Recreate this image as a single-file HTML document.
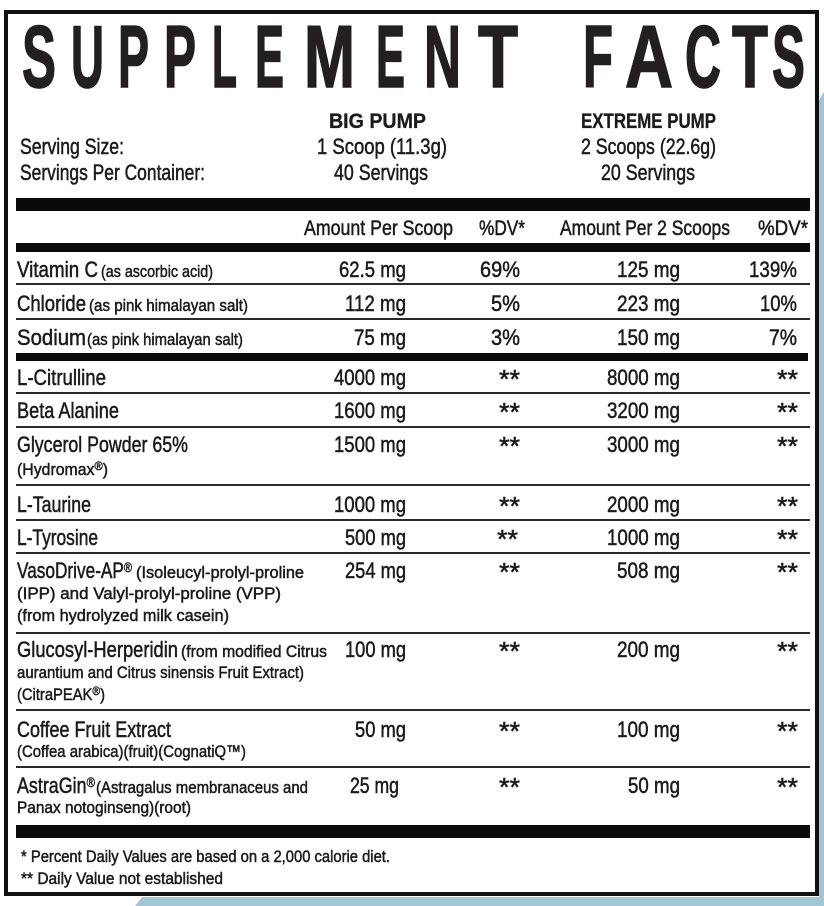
<!DOCTYPE html>
<html>
<head>
<meta charset="utf-8">
<style>
  html,body{margin:0;padding:0;background:#fff;}
  svg{display:block;}
  text{font-family:"Liberation Sans Narrow","Liberation Sans",sans-serif;fill:#1c1a1b;}
  .r text{stroke:#1c1a1b;stroke-width:0.5;}
  .b{font-weight:bold;}
  .t text{stroke:#231f20;stroke-width:1.6;fill:#231f20;}
  .bb text{stroke:#1c1a1b;stroke-width:0.3;}
</style>
</head>
<body>
<svg width="824" height="906" viewBox="0 0 824 906" xmlns="http://www.w3.org/2000/svg">
  <rect x="0" y="0" width="824" height="906" fill="#fff"/>
  <!-- blue shadow -->
  <polygon points="819,100 824,92 824,906 135,906 142,897 819,897" fill="#a3c6d5"/>
  <!-- outer border -->
  <rect x="6" y="12" width="811" height="882" fill="#fff" stroke="#111" stroke-width="4"/>

  <!-- Title -->
  <g class="b t" font-size="88">
    <text x="22" y="87" textLength="34" lengthAdjust="spacingAndGlyphs">S</text>
    <text x="71" y="87" textLength="33" lengthAdjust="spacingAndGlyphs">U</text>
    <text x="118" y="87" textLength="31" lengthAdjust="spacingAndGlyphs">P</text>
    <text x="164" y="87" textLength="32" lengthAdjust="spacingAndGlyphs">P</text>
    <text x="212" y="87" textLength="25" lengthAdjust="spacingAndGlyphs">L</text>
    <text x="255" y="87" textLength="29" lengthAdjust="spacingAndGlyphs">E</text>
    <text x="304" y="87" textLength="51" lengthAdjust="spacingAndGlyphs">M</text>
    <text x="376" y="87" textLength="29" lengthAdjust="spacingAndGlyphs">E</text>
    <text x="424" y="87" textLength="37" lengthAdjust="spacingAndGlyphs">N</text>
    <text x="478" y="87" textLength="40" lengthAdjust="spacingAndGlyphs">T</text>
    <text x="583" y="87" textLength="30" lengthAdjust="spacingAndGlyphs">F</text>
    <text x="625" y="87" textLength="48" lengthAdjust="spacingAndGlyphs">A</text>
    <text x="685" y="87" textLength="36" lengthAdjust="spacingAndGlyphs">C</text>
    <text x="732" y="87" textLength="36" lengthAdjust="spacingAndGlyphs">T</text>
    <text x="772" y="87" textLength="33" lengthAdjust="spacingAndGlyphs">S</text>
  </g>

  <!-- Product headers -->
  <g class="b bb" font-size="21">
    <text x="329" y="128" textLength="97" lengthAdjust="spacingAndGlyphs">BIG PUMP</text>
    <text x="581" y="128" textLength="135" lengthAdjust="spacingAndGlyphs">EXTREME PUMP</text>
  </g>

  <g class="r" font-size="22">
    <text x="20" y="154" textLength="104" lengthAdjust="spacingAndGlyphs">Serving Size:</text>
    <text x="20" y="180" textLength="185" lengthAdjust="spacingAndGlyphs">Servings Per Container:</text>
    <text x="317" y="154" textLength="130" lengthAdjust="spacingAndGlyphs">1 Scoop (11.3g)</text>
    <text x="334" y="180" textLength="94" lengthAdjust="spacingAndGlyphs">40 Servings</text>
    <text x="581" y="154" textLength="135" lengthAdjust="spacingAndGlyphs">2 Scoops (22.6g)</text>
    <text x="601" y="180" textLength="94" lengthAdjust="spacingAndGlyphs">20 Servings</text>
  </g>

  <!-- Bars and lines -->
  <g fill="#0a0a0a">
    <rect x="16" y="198" width="794" height="13"/>
    <rect x="16" y="243" width="794" height="9"/>
    <rect x="16" y="353" width="792" height="8"/>
    <rect x="16" y="825" width="794" height="13"/>
  </g>
  <g fill="#2a2a2a">
    <rect x="16" y="283" width="794" height="2"/>
    <rect x="16" y="318" width="794" height="2"/>
    <rect x="16" y="392" width="794" height="2"/>
    <rect x="16" y="426" width="794" height="2"/>
    <rect x="16" y="484" width="794" height="2"/>
    <rect x="16" y="519" width="794" height="2"/>
    <rect x="16" y="552" width="794" height="2"/>
    <rect x="16" y="632" width="794" height="2"/>
    <rect x="16" y="709" width="794" height="2"/>
    <rect x="16" y="766" width="794" height="2"/>
  </g>

  <!-- Column headers -->
  <g class="r" font-size="21">
    <text x="304" y="235" textLength="149" lengthAdjust="spacingAndGlyphs">Amount Per Scoop</text>
    <text x="479" y="235" textLength="46" lengthAdjust="spacingAndGlyphs">%DV*</text>
    <text x="560" y="235" textLength="170" lengthAdjust="spacingAndGlyphs">Amount Per 2 Scoops</text>
    <text x="758" y="235" textLength="50" lengthAdjust="spacingAndGlyphs">%DV*</text>
  </g>

  <!-- Ingredient names -->
  <g class="r" font-size="22">
    <text x="17" y="277" textLength="81" lengthAdjust="spacingAndGlyphs">Vitamin C</text>
    <text x="17" y="311" textLength="69" lengthAdjust="spacingAndGlyphs">Chloride</text>
    <text x="17" y="345" textLength="69" lengthAdjust="spacingAndGlyphs">Sodium</text>
    <text x="17" y="385" textLength="89" lengthAdjust="spacingAndGlyphs">L-Citrulline</text>
    <text x="17" y="418" textLength="102" lengthAdjust="spacingAndGlyphs">Beta Alanine</text>
    <text x="17" y="452" textLength="171" lengthAdjust="spacingAndGlyphs">Glycerol Powder 65%</text>
    <text x="17" y="512" textLength="74" lengthAdjust="spacingAndGlyphs">L-Taurine</text>
    <text x="17" y="545" textLength="81" lengthAdjust="spacingAndGlyphs">L-Tyrosine</text>
    <text x="17" y="578" textLength="115" lengthAdjust="spacingAndGlyphs">VasoDrive-AP<tspan font-size="14" dy="-6">®</tspan></text>
    <text x="17" y="657" textLength="161" lengthAdjust="spacingAndGlyphs">Glucosyl-Herperidin</text>
    <text x="17" y="737" textLength="154" lengthAdjust="spacingAndGlyphs">Coffee Fruit Extract</text>
    <text x="17" y="793" textLength="78" lengthAdjust="spacingAndGlyphs">AstraGin<tspan font-size="14" dy="-6">®</tspan></text>
  </g>

  <!-- Sub descriptions -->
  <g class="r" font-size="17">
    <text x="101" y="277" textLength="112" lengthAdjust="spacingAndGlyphs">(as ascorbic acid)</text>
    <text x="89" y="311" textLength="159" lengthAdjust="spacingAndGlyphs">(as pink himalayan salt)</text>
    <text x="87" y="345" textLength="156" lengthAdjust="spacingAndGlyphs">(as pink himalayan salt)</text>
    <text x="17" y="475" textLength="91" lengthAdjust="spacingAndGlyphs">(Hydromax<tspan font-size="12" dy="-5">®</tspan><tspan dy="5">)</tspan></text>
    <text x="136" y="578" textLength="168" lengthAdjust="spacingAndGlyphs">(Isoleucyl-prolyl-proline</text>
    <text x="17" y="599" textLength="264" lengthAdjust="spacingAndGlyphs">(IPP) and Valyl-prolyl-proline (VPP)</text>
    <text x="17" y="621" textLength="212" lengthAdjust="spacingAndGlyphs">(from hydrolyzed milk casein)</text>
    <text x="181" y="657" textLength="146" lengthAdjust="spacingAndGlyphs">(from modified Citrus</text>
    <text x="17" y="678" textLength="287" lengthAdjust="spacingAndGlyphs">aurantium and Citrus sinensis Fruit Extract)</text>
    <text x="17" y="700" textLength="88" lengthAdjust="spacingAndGlyphs">(CitraPEAK<tspan font-size="12" dy="-5">®</tspan><tspan dy="5">)</tspan></text>
    <text x="17" y="757" textLength="229" lengthAdjust="spacingAndGlyphs">(Coffea arabica)(fruit)(CognatiQ™)</text>
    <text x="96" y="793" textLength="212" lengthAdjust="spacingAndGlyphs">(Astragalus membranaceus and</text>
    <text x="17" y="813" textLength="174" lengthAdjust="spacingAndGlyphs">Panax notoginseng)(root)</text>
    <text x="21" y="862" textLength="369" lengthAdjust="spacingAndGlyphs">* Percent Daily Values are based on a 2,000 calorie diet.</text>
    <text x="21" y="884" textLength="202" lengthAdjust="spacingAndGlyphs">** Daily Value not established</text>
  </g>

  <!-- Amounts -->
  <g class="r" font-size="22">
    <text x="339" y="277" textLength="67" lengthAdjust="spacingAndGlyphs">62.5 mg</text>
    <text x="480" y="277" textLength="40" lengthAdjust="spacingAndGlyphs">69%</text>
    <text x="617" y="277" textLength="63" lengthAdjust="spacingAndGlyphs">125 mg</text>
    <text x="749" y="277" textLength="48" lengthAdjust="spacingAndGlyphs">139%</text>

    <text x="345" y="311" textLength="61" lengthAdjust="spacingAndGlyphs">112 mg</text>
    <text x="491" y="311" textLength="29" lengthAdjust="spacingAndGlyphs">5%</text>
    <text x="617" y="311" textLength="63" lengthAdjust="spacingAndGlyphs">223 mg</text>
    <text x="760" y="311" textLength="37" lengthAdjust="spacingAndGlyphs">10%</text>

    <text x="354" y="345" textLength="52" lengthAdjust="spacingAndGlyphs">75 mg</text>
    <text x="491" y="345" textLength="29" lengthAdjust="spacingAndGlyphs">3%</text>
    <text x="617" y="345" textLength="63" lengthAdjust="spacingAndGlyphs">150 mg</text>
    <text x="769" y="345" textLength="28" lengthAdjust="spacingAndGlyphs">7%</text>

    <text x="334" y="385" textLength="72" lengthAdjust="spacingAndGlyphs">4000 mg</text>
    <text x="607" y="385" textLength="73" lengthAdjust="spacingAndGlyphs">8000 mg</text>

    <text x="334" y="418" textLength="72" lengthAdjust="spacingAndGlyphs">1600 mg</text>
    <text x="607" y="418" textLength="73" lengthAdjust="spacingAndGlyphs">3200 mg</text>

    <text x="334" y="452" textLength="72" lengthAdjust="spacingAndGlyphs">1500 mg</text>
    <text x="607" y="452" textLength="73" lengthAdjust="spacingAndGlyphs">3000 mg</text>

    <text x="334" y="512" textLength="72" lengthAdjust="spacingAndGlyphs">1000 mg</text>
    <text x="607" y="512" textLength="73" lengthAdjust="spacingAndGlyphs">2000 mg</text>

    <text x="345" y="545" textLength="61" lengthAdjust="spacingAndGlyphs">500 mg</text>
    <text x="607" y="545" textLength="73" lengthAdjust="spacingAndGlyphs">1000 mg</text>

    <text x="345" y="578" textLength="61" lengthAdjust="spacingAndGlyphs">254 mg</text>
    <text x="617" y="578" textLength="63" lengthAdjust="spacingAndGlyphs">508 mg</text>

    <text x="345" y="657" textLength="61" lengthAdjust="spacingAndGlyphs">100 mg</text>
    <text x="617" y="657" textLength="63" lengthAdjust="spacingAndGlyphs">200 mg</text>

    <text x="355" y="737" textLength="51" lengthAdjust="spacingAndGlyphs">50 mg</text>
    <text x="617" y="737" textLength="63" lengthAdjust="spacingAndGlyphs">100 mg</text>

    <text x="350" y="793" textLength="49" lengthAdjust="spacingAndGlyphs">25 mg</text>
    <text x="628" y="793" textLength="52" lengthAdjust="spacingAndGlyphs">50 mg</text>
  </g>

  <!-- Asterisks -->
  <g class="r" font-size="26">
    <text x="499" y="388" textLength="21" lengthAdjust="spacingAndGlyphs">**</text>
    <text x="777" y="388" textLength="21" lengthAdjust="spacingAndGlyphs">**</text>
    <text x="499" y="421" textLength="21" lengthAdjust="spacingAndGlyphs">**</text>
    <text x="777" y="421" textLength="21" lengthAdjust="spacingAndGlyphs">**</text>
    <text x="499" y="455" textLength="21" lengthAdjust="spacingAndGlyphs">**</text>
    <text x="777" y="455" textLength="21" lengthAdjust="spacingAndGlyphs">**</text>
    <text x="499" y="515" textLength="21" lengthAdjust="spacingAndGlyphs">**</text>
    <text x="777" y="515" textLength="21" lengthAdjust="spacingAndGlyphs">**</text>
    <text x="497" y="548" textLength="21" lengthAdjust="spacingAndGlyphs">**</text>
    <text x="777" y="548" textLength="21" lengthAdjust="spacingAndGlyphs">**</text>
    <text x="499" y="581" textLength="21" lengthAdjust="spacingAndGlyphs">**</text>
    <text x="777" y="581" textLength="21" lengthAdjust="spacingAndGlyphs">**</text>
    <text x="499" y="660" textLength="21" lengthAdjust="spacingAndGlyphs">**</text>
    <text x="777" y="660" textLength="21" lengthAdjust="spacingAndGlyphs">**</text>
    <text x="499" y="740" textLength="21" lengthAdjust="spacingAndGlyphs">**</text>
    <text x="777" y="740" textLength="21" lengthAdjust="spacingAndGlyphs">**</text>
    <text x="499" y="796" textLength="21" lengthAdjust="spacingAndGlyphs">**</text>
    <text x="777" y="796" textLength="21" lengthAdjust="spacingAndGlyphs">**</text>
  </g>
</svg>
</body>
</html>
